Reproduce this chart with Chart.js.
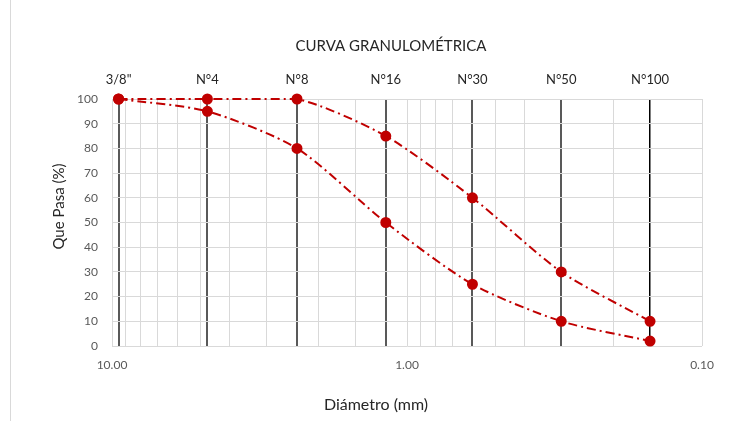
<!DOCTYPE html>
<html>
<head>
<meta charset="utf-8">
<script src="https://cdn.jsdelivr.net/npm/chart.js@4"></script>
<style>
    html, body { margin: 0; padding: 0; background: #fff; }
    #wrap { width: 741px; height: 421px; }
</style>
</head>
<body>
<div id="wrap"><canvas id="curvaChart" width="741" height="421"></canvas></div>
<script>
// Tamices y abertura (mm)
const sieveLabels = ['3/8"', 'N°4', 'N°8', 'N°16', 'N°30', 'N°50', 'N°100'];
const sieveSizes = [9.5, 4.75, 2.36, 1.18, 0.6, 0.3, 0.15];

// Limites del huso (% que pasa)
const upperLimit = [100, 100, 100, 85, 60, 30, 10];
const lowerLimit = [100, 95, 80, 50, 25, 10, 2];

// Etiquetas de ejes
const xMajorTicks = [10, 1, 0.1];
const yMin = 0, yMax = 100, yStep = 10;

const FONT = 'Lato, "Open Sans", sans-serif';
const RED = '#c00000';

function toPoints(values) {
    return sieveSizes.map((size, i) => ({ x: size, y: values[i] }));
}

function isMajor(value) {
    return xMajorTicks.some(t => Math.abs(Math.log10(value) - Math.log10(t)) < 1e-6);
}

// Titulo, titulos de ejes y borde del grafico
const textPlugin = {
    id: 'textPlugin',
    afterDraw(chart) {
        const ctx = chart.ctx;
        const area = chart.chartArea;
        ctx.save();
        ctx.strokeStyle = '#d9d9d9';
        ctx.lineWidth = 1;
        ctx.beginPath();
        ctx.moveTo(10.5, 0);
        ctx.lineTo(10.5, chart.height);
        ctx.stroke();

        ctx.fillStyle = '#262626';
        ctx.textAlign = 'center';
        ctx.textBaseline = 'middle';
        ctx.font = '15px ' + FONT;
        ctx.fillText('CURVA GRANULOMÉTRICA', 391, 46);

        ctx.font = '16px ' + FONT;
        ctx.fillText('Diámetro (mm)', 376, 405);

        ctx.font = '15px ' + FONT;
        ctx.translate(59, (area.top + area.bottom) / 2 - 16);
        ctx.rotate(-Math.PI / 2);
        ctx.fillText('Que Pasa (%)', 0, 0);
        ctx.restore();
    }
};

const lineStyle = {
    borderColor: RED,
    backgroundColor: RED,
    borderWidth: 2,
    borderDash: [9, 4, 2, 4],
    pointRadius: 4.5,
    pointHoverRadius: 4.5,
    tension: 0.25,
    clip: false
};

const ctx = document.getElementById('curvaChart').getContext('2d');
new Chart(ctx, {
    type: 'line',
    data: {
        datasets: [
            Object.assign({ label: 'Límite superior', data: toPoints(upperLimit) }, lineStyle),
            Object.assign({ label: 'Límite inferior', data: toPoints(lowerLimit) }, lineStyle)
        ]
    },
    options: {
        responsive: false,
        animation: false,
        layout: { padding: { top: 0, left: 0, right: 39, bottom: 0 } },
        plugins: {
            legend: { display: false },
            title: { display: false },
            tooltip: { enabled: false }
        },
        scales: {
            x: {
                type: 'logarithmic',
                position: 'bottom',
                min: 0.1,
                max: 10,
                reverse: true,
                afterFit: scale => { scale.height = 75; },
                grid: { color: '#d9d9d9', lineWidth: 1, drawTicks: false },
                border: { display: false },
                ticks: {
                    autoSkip: false,
                    maxRotation: 0,
                    padding: 12,
                    color: '#595959',
                    font: { family: FONT, size: 12 },
                    callback: value => isMajor(value) ? Number(value).toFixed(2) : ''
                }
            },
            x2: {
                type: 'logarithmic',
                position: 'top',
                min: 0.1,
                max: 10,
                reverse: true,
                afterBuildTicks: scale => {
                    scale.ticks = sieveSizes.map(v => ({ value: v }));
                },
                afterFit: scale => { scale.height = 99; },
                grid: {
                    drawTicks: false,
                    color: c => c.index === sieveSizes.length - 1 ? '#000000' : '#595959',
                    lineWidth: c => c.index === sieveSizes.length - 1 ? 1.5 : 2
                },
                border: { display: false },
                ticks: {
                    autoSkip: false,
                    maxRotation: 0,
                    padding: 11,
                    color: '#262626',
                    font: { family: FONT, size: 13 },
                    callback: (value, index) => sieveLabels[index]
                }
            },
            y: {
                min: yMin,
                max: yMax,
                afterFit: scale => { scale.width = 112; },
                grid: { color: '#d9d9d9', lineWidth: 1, drawTicks: false },
                border: { color: '#d9d9d9' },
                ticks: {
                    stepSize: yStep,
                    padding: 14,
                    color: '#595959',
                    font: { family: FONT, size: 12 }
                }
            }
        }
    },
    plugins: [textPlugin]
});
</script>
</body>
</html>
